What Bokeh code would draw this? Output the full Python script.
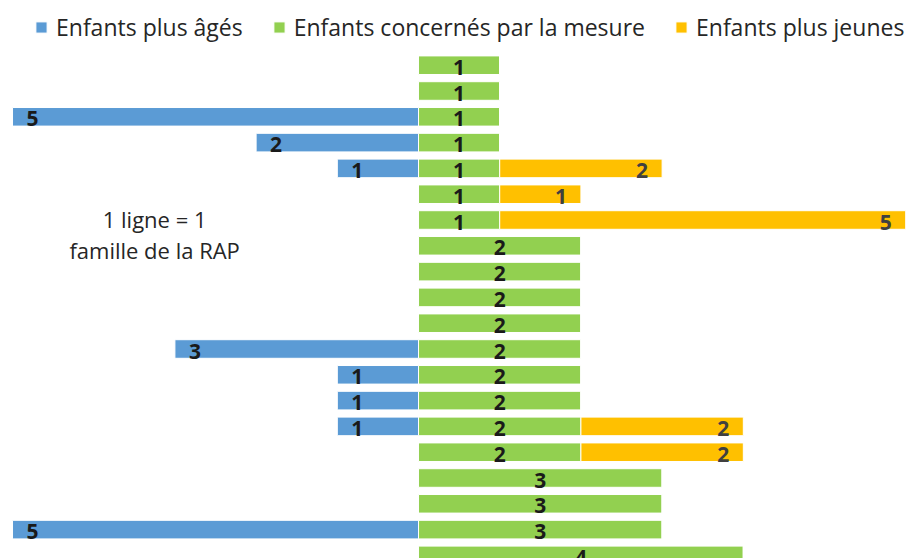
from bokeh.plotting import figure
from bokeh.models import ColumnDataSource, Range1d, Label, Legend, LegendItem
from bokeh.core.properties import value
from bokeh.embed import file_html
from bokeh.resources import INLINE

# ---- data (one row = one family) ----
families = list(range(1, 21))
older     = [0, 0, 5, 2, 1, 0, 0, 0, 0, 0, 0, 3, 1, 1, 1, 0, 0, 0, 5, 0]
concerned = [1, 1, 1, 1, 1, 1, 1, 2, 2, 2, 2, 2, 2, 2, 2, 2, 3, 3, 3, 4]
younger   = [0, 0, 0, 0, 2, 1, 5, 0, 0, 0, 0, 0, 0, 0, 2, 2, 0, 0, 0, 0]
series_names = ["Enfants plus âgés", "Enfants concernés par la mesure", "Enfants plus jeunes"]
note_lines = ["1 ligne = 1", "famille de la RAP"]

BLUE, GREEN, YELLOW = "#5B9BD5", "#92D050", "#FFC000"
FONT = "'Open Sans', 'Noto Sans', sans-serif"

W, H = 907, 558
p = figure(width=W, height=H, output_backend="svg", toolbar_location=None,
           x_axis_type=None, y_axis_type=None, min_border=0,
           x_range=Range1d(-5.148, 6.022), y_range=Range1d(20.12, -1.508))
p.outline_line_color = None
p.xgrid.visible = False
p.ygrid.visible = False
p.background_fill_color = "white"
p.border_fill_color = "white"

src = ColumnDataSource(dict(
    y=families,
    o_left=[-v for v in older], o_right=[0] * len(older),
    c_left=[0] * len(concerned), c_right=concerned,
    y_left=concerned, y_right=[c + v for c, v in zip(concerned, younger)],
))

BH = 0.72
r_old = p.hbar(y="y", left="o_left", right="o_right", height=BH, source=src,
               fill_color=BLUE, line_color="white", line_width=1)
r_con = p.hbar(y="y", left="c_left", right="c_right", height=BH, source=src,
               fill_color=GREEN, line_color="white", line_width=1)
r_yng = p.hbar(y="y", left="y_left", right="y_right", height=BH, source=src,
               fill_color=YELLOW, line_color="white", line_width=1)

# ---- value labels ----
LBL = dict(text_font=value("Open Sans"), text_font_size="21px", text_font_style="bold",
           text_baseline="middle", y_offset=2)
o_idx = [i for i, v in enumerate(older) if v > 0]
lab_o = ColumnDataSource(dict(x=[-older[i] for i in o_idx], y=[families[i] for i in o_idx],
                              t=[str(older[i]) for i in o_idx]))
p.text(x="x", y="y", text="t", source=lab_o, text_align="left", x_offset=14,
       text_color="#1a1a1a", **LBL)

lab_c = ColumnDataSource(dict(x=[c / 2 for c in concerned], y=families,
                              t=[str(c) for c in concerned]))
p.text(x="x", y="y", text="t", source=lab_c, text_align="center",
       text_color="#1a1a1a", **LBL)

y_idx = [i for i, v in enumerate(younger) if v > 0]
lab_y = ColumnDataSource(dict(x=[concerned[i] + younger[i] for i in y_idx],
                              y=[families[i] for i in y_idx],
                              t=[str(younger[i]) for i in y_idx]))
p.text(x="x", y="y", text="t", source=lab_y, text_align="right", x_offset=-14,
       text_color="#404040", **LBL)

# ---- note ----
for k, line in enumerate(note_lines):
    p.add_layout(Label(x=-3.25, y=6.95 + 1.22 * k, text=line, text_align="center",
                       text_baseline="middle", text_font=FONT, text_font_size="22px",
                       text_color="#262626"))

# ---- legend ----
legend = Legend(items=[LegendItem(label=series_names[0], renderers=[r_old]),
                       LegendItem(label=series_names[1], renderers=[r_con]),
                       LegendItem(label=series_names[2], renderers=[r_yng])],
                orientation="horizontal", location=(34, 515),
                glyph_width=14, glyph_height=14, label_standoff=8, spacing=29,
                padding=0, margin=0, border_line_color=None, background_fill_alpha=0,
                label_text_font=FONT, label_text_font_size="23px",
                label_text_color="#262626")
p.add_layout(legend, "center")

open("out.html", "w").write(file_html(p, INLINE))
